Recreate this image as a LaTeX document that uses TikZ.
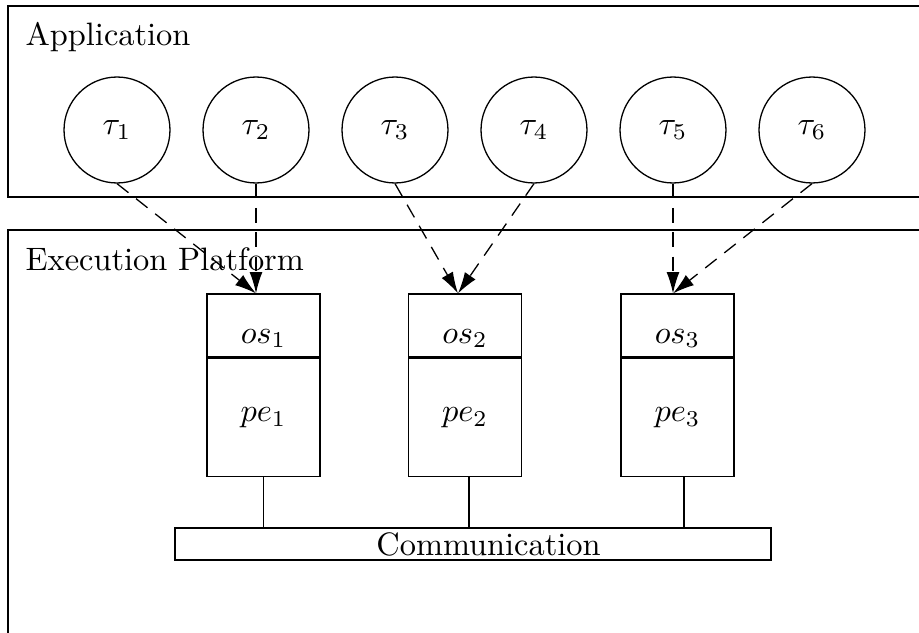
\documentclass[tikz,border=0pt]{standalone}
\usepackage{tikz}
\usetikzlibrary{arrows.meta,calc}

\tikzset{
    task/.style={draw, circle, minimum size=32.7pt, inner sep=0pt},
    osbox/.style={draw, minimum width=34.9pt, minimum height=19.4pt, inner sep=0pt, text height=11.8pt, text depth=1pt},
    pebox/.style={draw, minimum width=34.9pt, minimum height=36.6pt, inner sep=0pt},
    commbox/.style={draw, minimum width=183.9pt, minimum height=9.9pt, inner sep=0pt},
    maps/.style={dash pattern=on 4.5pt off 3pt, -{Latex[length=6.6pt, width=4pt]}},
    title/.style={anchor=base west, inner sep=0pt}
}

\begin{document}
\begin{tikzpicture}[x=0.3086pt, y=-0.3086pt]
            \useasboundingbox (0, 0) rectangle (919, 633);

            \draw (8, 6) rectangle (935, 197);
            \draw (8, 230) rectangle (935, 650);
            \node[title] (applabel) at (25, 46) {Application};
            \node[title] (eplabel) at (25, 270) {Execution Platform};

            \node[task] (t1) at (117, 130) {$\tau_1$};
            \node[task] (t2) at (256, 130) {$\tau_2$};
            \node[task] (t3) at (395, 130) {$\tau_3$};
            \node[task] (t4) at (534, 130) {$\tau_4$};
            \node[task] (t5) at (673, 130) {$\tau_5$};
            \node[task] (t6) at (812, 130) {$\tau_6$};

            \node[osbox] (os1) at (263.5, 325.5) {$os_1$};
            \node[osbox] (os2) at (465, 325.5) {$os_2$};
            \node[osbox] (os3) at (677.5, 325.5) {$os_3$};
            \node[pebox, anchor=north] (pe1) at (os1.south) {$pe_1$};
            \node[pebox, anchor=north] (pe2) at (os2.south) {$pe_2$};
            \node[pebox, anchor=north] (pe3) at (os3.south) {$pe_3$};

            \node[commbox, label={[xshift=4.8pt]center:Communication}] (comm) at (473, 544) {};

            \coordinate (in1) at ($(os1.north) + (-7.5, 0)$);
            \coordinate (in2) at ($(os2.north) + (-7, 0)$);
            \coordinate (in3) at ($(os3.north) + (-4.5, 0)$);
            \coordinate (bus1) at (pe1.south);
            \coordinate (bus2) at ($(pe2.south) + (4, 0)$);
            \coordinate (bus3) at ($(pe3.south) + (6.5, 0)$);

            \draw[maps] (t1.south) -- (in1);
            \draw[maps] (t2.south) -- (in1);
            \draw[maps] (t3.south) -- (in2);
            \draw[maps] (t4.south) -- (in2);
            \draw[maps] (t5.south) -- (in3);
            \draw[maps] (t6.south) -- (in3);

            \draw (bus1) -- (bus1 |- comm.north);
            \draw (bus2) -- (bus2 |- comm.north);
            \draw (bus3) -- (bus3 |- comm.north);

        \end{tikzpicture}
\end{document}
